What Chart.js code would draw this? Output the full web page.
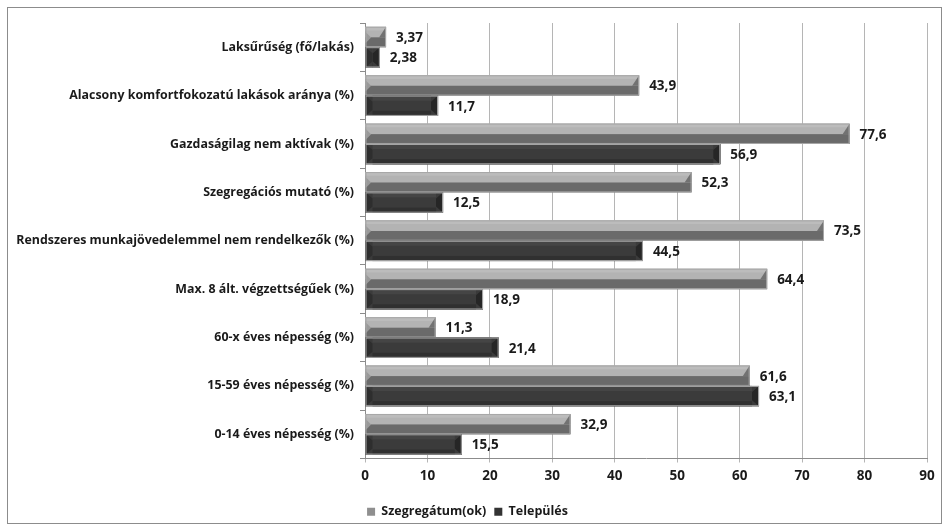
<!DOCTYPE html>
<html lang="hu">
<head>
  <meta charset="UTF-8">
  <title>Szegregátum vs Település</title>
  <script src="https://cdn.jsdelivr.net/npm/chart.js"></script>
  <style>
    body { margin: 0; background: #fff; }
    .keret {
      position: absolute; left: 7px; top: 7px;
      width: 933px; height: 515px;
      border: 1px solid #8c8c8c;
    }
  </style>
</head>
<body>
  <div class="keret"><canvas id="grafikon"></canvas></div>

  <script>
    const kategoriak = [
      'Laksűrűség (fő/lakás)',
      'Alacsony komfortfokozatú lakások aránya (%)',
      'Gazdaságilag nem aktívak (%)',
      'Szegregációs mutató (%)',
      'Rendszeres munkajövedelemmel nem rendelkezők (%)',
      'Max. 8 ált. végzettségűek (%)',
      '60-x éves népesség (%)',
      '15-59 éves népesség (%)',
      '0-14 éves népesség (%)'
    ];
    const szegregatum = [3.37, 43.9, 77.6, 52.3, 73.5, 64.4, 11.3, 61.6, 32.9];
    const telepules = [2.38, 11.7, 56.9, 12.5, 44.5, 18.9, 21.4, 63.1, 15.5];
    const xTicks = [0, 10, 20, 30, 40, 50, 60, 70, 80, 90];

    const betu = "'Open Sans', sans-serif";

    // value labels with Hungarian decimal comma
    const ertekFelirat = v => String(v).replace('.', ',');

    // 3D-looking bevel drawn on top of each bar, using the bar geometry from Chart.js
    const bevelPlugin = {
      id: 'bevel',
      afterDatasetsDraw(chart) {
        const ctx = chart.ctx;
        chart.data.datasets.forEach((ds, di) => {
          const meta = chart.getDatasetMeta(di);
          meta.data.forEach((bar, i) => {
            const p = bar.getProps(['x', 'y', 'base', 'height'], true);
            const x0 = p.base, x1 = p.x, h = p.height;
            const top = p.y - h / 2, bot = p.y + h / 2;
            const w = x1 - x0;
            const e = Math.min(7, w / 2);
            ctx.save();
            if (di === 0) {
              const mid = top + h * 0.52;
              ctx.fillStyle = '#b3b3b3';
              ctx.fillRect(x0, top, w, mid - top);
              ctx.fillStyle = '#bcbcbc';
              ctx.fillRect(x0, top, w, h * 0.18);
              ctx.fillStyle = '#6a6a6a';
              ctx.fillRect(x0, mid, w, bot - mid);
              // right wedge
              ctx.fillStyle = '#727272';
              ctx.beginPath();
              ctx.moveTo(x1, top); ctx.lineTo(x1, mid); ctx.lineTo(x1 - e, mid);
              ctx.closePath(); ctx.fill();
              // left arrow
              ctx.fillStyle = '#999';
              ctx.beginPath();
              ctx.moveTo(x0, top + h * 0.25); ctx.lineTo(x0 + e * 0.8, mid); ctx.lineTo(x0, bot - h * 0.2);
              ctx.closePath(); ctx.fill();
            } else {
              ctx.fillStyle = '#3b3b3b';
              ctx.fillRect(x0, top, w, h);
              ctx.fillStyle = '#454545';
              ctx.fillRect(x0 + e, top, w - 2 * e, h * 0.25);
              ctx.fillStyle = '#303030';
              ctx.fillRect(x0 + e, bot - h * 0.25, w - 2 * e, h * 0.25);
              ctx.fillStyle = '#262626';
              ctx.beginPath();
              ctx.moveTo(x1, top); ctx.lineTo(x1 - e, top + h * 0.3);
              ctx.lineTo(x1 - e, bot - h * 0.3); ctx.lineTo(x1, bot);
              ctx.closePath(); ctx.fill();
              ctx.fillStyle = '#2e2e2e';
              ctx.beginPath();
              ctx.moveTo(x0, top); ctx.lineTo(x0 + e, top + h * 0.3);
              ctx.lineTo(x0 + e, bot - h * 0.3); ctx.lineTo(x0, bot);
              ctx.closePath(); ctx.fill();
            }
            ctx.strokeStyle = '#a8a8a8';
            ctx.lineWidth = 1;
            ctx.strokeRect(x0 + 0.5, top + 0.5, w - 1, h - 1);

            // value label
            ctx.fillStyle = '#1a1a1a';
            ctx.font = 'bold 13.5px ' + betu;
            ctx.textAlign = 'left';
            ctx.textBaseline = 'middle';
            ctx.fillText(ertekFelirat(ds.data[i]), x1 + 10, p.y + 1);
            ctx.restore();
          });
        });
      }
    };

    new Chart(document.getElementById('grafikon'), {
      type: 'bar',
      data: {
        labels: kategoriak,
        datasets: [{
          label: 'Szegregátum(ok)',
          data: szegregatum,
          backgroundColor: '#8f8f8f',
          borderWidth: 0,
          barPercentage: 1,
          categoryPercentage: 0.84
        }, {
          label: 'Település',
          data: telepules,
          backgroundColor: '#333333',
          borderWidth: 0,
          barPercentage: 1,
          categoryPercentage: 0.84
        }]
      },
      options: {
        indexAxis: 'y',
        responsive: true,
        maintainAspectRatio: false,
        animation: false,
        layout: { padding: { top: 15, right: 14, bottom: -5, left: 0 } },
        plugins: {
          legend: {
            position: 'bottom',
            labels: {
              boxWidth: 8,
              boxHeight: 8,
              color: '#1a1a1a',
              padding: 8,
              font: { family: betu, size: 12.5, weight: 'bold' }
            }
          },
          tooltip: { enabled: false }
        },
        scales: {
          x: {
            min: 0,
            max: 90,
            afterBuildTicks: s => { s.ticks = xTicks.map(v => ({ value: v })); },
            grid: { color: '#b5b5b5', tickLength: 4 },
            border: { color: '#8c8c8c' },
            ticks: {
              color: '#1a1a1a',
              padding: 6,
              maxRotation: 0,
              font: { family: betu, size: 13.5, weight: 'bold' }
            },
            afterFit: s => { s.height = 39; }
          },
          y: {
            grid: { drawOnChartArea: false, tickLength: 5, color: '#8c8c8c' },
            border: { color: '#8c8c8c' },
            ticks: {
              color: '#1a1a1a',
              padding: 6,
              font: { family: betu, size: 12.4, weight: 'bold' }
            },
            afterFit: s => { s.width = 357; }
          }
        }
      },
      plugins: [bevelPlugin]
    });
  </script>
</body>
</html>
